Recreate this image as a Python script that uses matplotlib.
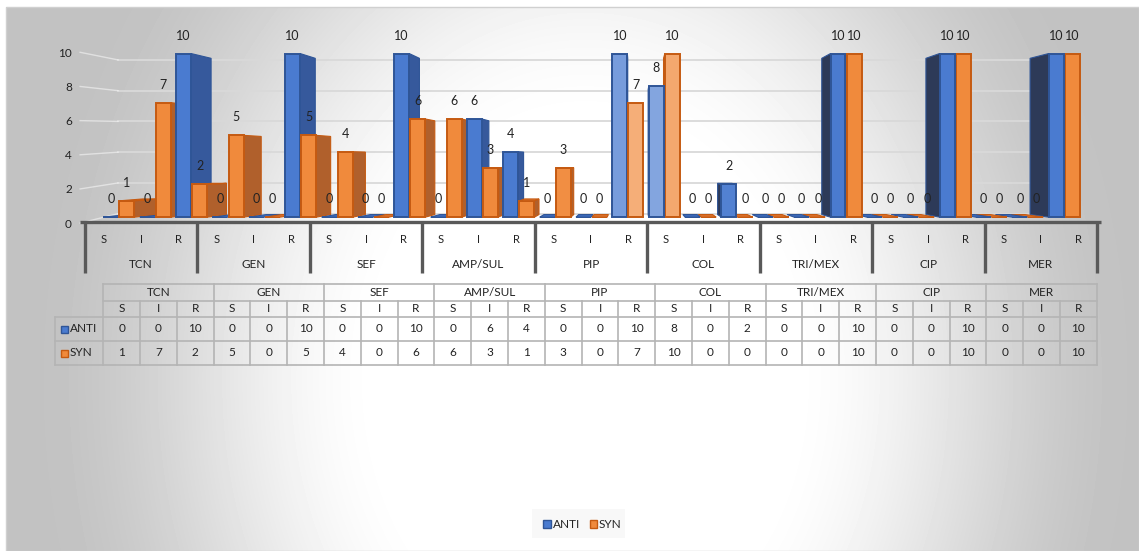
#%%
# Importa as bibliotecas necessárias
import numpy as np
import matplotlib
matplotlib.use('Agg')
import matplotlib.pyplot as plt
from matplotlib.patches import Polygon, Rectangle
from matplotlib.colors import to_rgb


#%%
# Dados: perfil S/I/R por antibiótico
antibioticos = ['TCN', 'GEN', 'SEF', 'AMP/SUL', 'PIP', 'COL', 'TRI/MEX', 'CIP', 'MER']
niveis = ['S', 'I', 'R']
anti = [0, 0, 10, 0, 0, 10, 0, 0, 10, 0, 6, 4, 0, 0, 10, 8, 0, 2, 0, 0, 10, 0, 0, 10, 0, 0, 10]
syn = [1, 7, 2, 5, 0, 5, 4, 0, 6, 6, 3, 1, 3, 0, 7, 10, 0, 0, 0, 0, 10, 0, 0, 10, 0, 0, 10]
series = ['ANTI', 'SYN']
valores_y = [0, 2, 4, 6, 8, 10]


#%%
# Geometria da figura (em pixels) e da perspectiva "3D"
LARGURA, ALTURA = 1139, 551
X0, X1 = 85, 1097
Y_ZERO, Y_DEZ = 223.1, 52.3
ESC = (Y_ZERO - Y_DEZ) / 10          # pixels por unidade

XV, YV = 14.2, 3.52                  # ponto de fuga (coordenadas de dados)
F_BARRA = 0.955
F_PAREDE = 0.94

COR_TEXTO = '#222222'
plt.rcParams['font.family'] = ['Lato', 'DejaVu Sans']

cores = {
    'ANTI': dict(frente='#4a7bd0', borda='#2f5597', lado_d='#36599c', lado_e='#2d3a58', topo='#3d6bbd'),
    'SYN': dict(frente='#f08a3c', borda='#c55a11', lado_d='#b0602c', lado_e='#9c5024', topo='#dc722c'),
}


def proj(x, y, f):
    x = np.asarray(x, dtype=float)
    y = np.asarray(y, dtype=float)
    return XV + f * (x - XV), YV + f * (y - YV)


def clarear(cor, t):
    r = np.array(to_rgb(cor))
    return tuple(r + (1 - r) * t)


def y_px(p):
    # pixel (a partir do topo) -> unidade do eixo y
    return (Y_ZERO - p) / ESC


#%%
fig = plt.figure(figsize=(LARGURA / 100, ALTURA / 100), dpi=100)

# Fundo com gradiente radial
fundo = fig.add_axes([0, 0, 1, 1])
fundo.set_xlim(0, LARGURA)
fundo.set_ylim(ALTURA, 0)
fundo.axis('off')
yy, xx = np.mgrid[0:ALTURA, 0:LARGURA]
d = np.sqrt(((xx - 585) / 560) ** 2 + ((yy - 380) / 700) ** 2)
t = np.clip((d - 0.35) / 0.65, 0, 1)
t = t * t * (3 - 2 * t)
cinza = 1 - 0.24 * t
cinza[:7, :] = 1
cinza[:, :6] = 1
fundo.imshow(cinza, cmap='gray', vmin=0, vmax=1, extent=(0, LARGURA, ALTURA, 0),
             aspect='auto', interpolation='bilinear', zorder=0)
fundo.add_patch(Rectangle((6, 7), LARGURA - 6, ALTURA - 7, fill=False, ec='#d0d0d0', lw=1))


#%%
# Eixo principal das colunas
n = len(anti)
ax = fig.add_axes([X0 / LARGURA, 1 - Y_ZERO / ALTURA, (X1 - X0) / LARGURA, (Y_ZERO - Y_DEZ) / ALTURA])
ax.set_xlim(-0.5, n - 0.5)
ax.set_ylim(0, 10)
ax.patch.set_visible(False)
for s in ax.spines.values():
    s.set_visible(False)
ax.set_xticks([])

pos_rotulos = [y_px(229.3 - 17.83 * v) for v in valores_y]
ax.set_yticks(pos_rotulos, labels=[str(v) for v in valores_y])
ax.tick_params(axis='y', length=0, pad=9.4, labelsize=8.5, labelcolor=COR_TEXTO)

# Linhas de grade na parede do fundo e na parede lateral
for v, py in zip(valores_y, pos_rotulos):
    xa, ya = proj([-0.5, n - 0.5], [v, v], F_PAREDE)
    ax.plot(xa, ya, color='#d9d9d9', lw=1.3, zorder=1, clip_on=False)
    ax.plot([-0.63, xa[0]], [py, ya[0]], color='white', lw=1.0, alpha=0.5,
            zorder=1, clip_on=False)


#%%
# Colunas (frente pelo ax.bar, laterais e topo pela perspectiva)
largura = 0.4
pos_anti = [k + 0.19 - 0.03 * k for k in range(n)]
pos_syn = [p + 0.43 for p in pos_anti]

for nome, pos, vals in [('ANTI', pos_anti, anti), ('SYN', pos_syn, syn)]:
    c = cores[nome]
    barras = ax.bar(pos, vals, largura, color=c['frente'], edgecolor=c['borda'],
                    lw=1.4, clip_on=False)
    for b, v in zip(barras, vals):
        xa = b.get_x()
        xb = xa + b.get_width()
        xc = xa + b.get_width() / 2
        z = 5 - 0.1 * abs(xc - XV)
        luz = 0.35 * max(0.0, 1 - abs(xc - 14.5) / 2.5)
        b.set_facecolor(clarear(c['frente'], luz))
        b.set_zorder(z)

        if xb < XV:
            xl, cor_lado = xb, c['lado_d']
        elif xa > XV:
            xl, cor_lado = xa, c['lado_e']
        else:
            xl = None
        if xl is not None and v > 0:
            px, py = proj([xl, xl], [v, 0], F_BARRA)
            ax.add_patch(Polygon([(xl, 0), (xl, v), (px[0], py[0]), (px[1], py[1])],
                                 closed=True, fc=cor_lado, ec=c['borda'], lw=0.8,
                                 zorder=z - 0.01, clip_on=False))
        if v < YV:
            px, py = proj([xb, xa], [v, v], F_BARRA)
            ax.add_patch(Polygon([(xa, v), (xb, v), (px[0], py[0]), (px[1], py[1])],
                                 closed=True, fc=c['topo'], ec=c['borda'], lw=0.8,
                                 zorder=z + 0.01, clip_on=False))

        ax.text(xc, v + 1.1, str(v), ha='center', va='center', fontsize=9,
                color=COR_TEXTO, zorder=20, clip_on=False)


#%%
# Eixo das categorias com divisões por antibiótico
y_eixo = y_px(228.3)
ax.plot([-0.63, n - 0.4], [y_eixo, y_eixo], color='#595959', lw=2.4,
        solid_capstyle='butt', zorder=6, clip_on=False)
for g in range(len(antibioticos) + 1):
    xg = 3 * g - 0.5
    ax.plot([xg, xg], [y_eixo, y_px(281.7)], color='#595959', lw=2.4,
            solid_capstyle='butt', zorder=6, clip_on=False)

for k in range(n):
    ax.text(k, y_px(246), niveis[k % 3], ha='center', va='center', fontsize=8,
            color=COR_TEXTO, clip_on=False)
for g, nome in enumerate(antibioticos):
    ax.text(3 * g + 1, y_px(272), nome, ha='center', va='center', fontsize=8.5,
            color=COR_TEXTO, clip_on=False)


#%%
# Tabela de dados
T_X0, T_X1 = 103.3, 1096.7
col = (T_X1 - T_X0) / n
linhas_y = [284, 300.7, 316.7, 340.7, 365]
RH_X0 = 55
cor_grade = '#b4b4b4'

for i, yl in enumerate(linhas_y):
    x_ini = T_X0 if i < 2 else RH_X0
    fundo.plot([x_ini, T_X1], [yl, yl], color=cor_grade, lw=1.2, zorder=2)
for j in range(n + 1):
    xl = T_X0 + j * col
    y_top = linhas_y[0] if j % 3 == 0 else linhas_y[1]
    fundo.plot([xl, xl], [y_top, linhas_y[-1]], color=cor_grade, lw=1.2, zorder=2)
fundo.plot([RH_X0, RH_X0], [linhas_y[2], linhas_y[-1]], color=cor_grade, lw=1.2, zorder=2)

for g, nome in enumerate(antibioticos):
    fundo.text(T_X0 + (3 * g + 1.5) * col, 292.5, nome, ha='center', va='center',
               fontsize=8.5, color=COR_TEXTO, zorder=3)
for k in range(n):
    xk = T_X0 + (k + 0.5) * col
    fundo.text(xk, 308.9, niveis[k % 3], ha='center', va='center', fontsize=8.5,
               color=COR_TEXTO, zorder=3)
    fundo.text(xk, 329, str(anti[k]), ha='center', va='center', fontsize=8.5,
               color=COR_TEXTO, zorder=3)
    fundo.text(xk, 353, str(syn[k]), ha='center', va='center', fontsize=8.5,
               color=COR_TEXTO, zorder=3)

for nome, yc in zip(series, [329, 353]):
    c = cores[nome]
    fundo.add_patch(Rectangle((61, yc - 3.5), 6.5, 7, fc=c['frente'], ec=c['borda'], lw=1, zorder=3))
    fundo.text(69.5, yc, nome, ha='left', va='center', fontsize=8.5, color=COR_TEXTO, zorder=3)


#%%
# Legenda
fundo.add_patch(Rectangle((532, 509), 93, 29, fc='#f8f8f8', ec='none', zorder=2))
for nome, xk in zip(series, [543, 589.5]):
    c = cores[nome]
    fundo.add_patch(Rectangle((xk, 520), 7.5, 7.5, fc=c['frente'], ec=c['borda'], lw=1, zorder=3))
    fundo.text(xk + 9.5, 524, nome, ha='left', va='center', fontsize=8.5, color=COR_TEXTO, zorder=3)

fig.savefig('out.png', dpi=100)
